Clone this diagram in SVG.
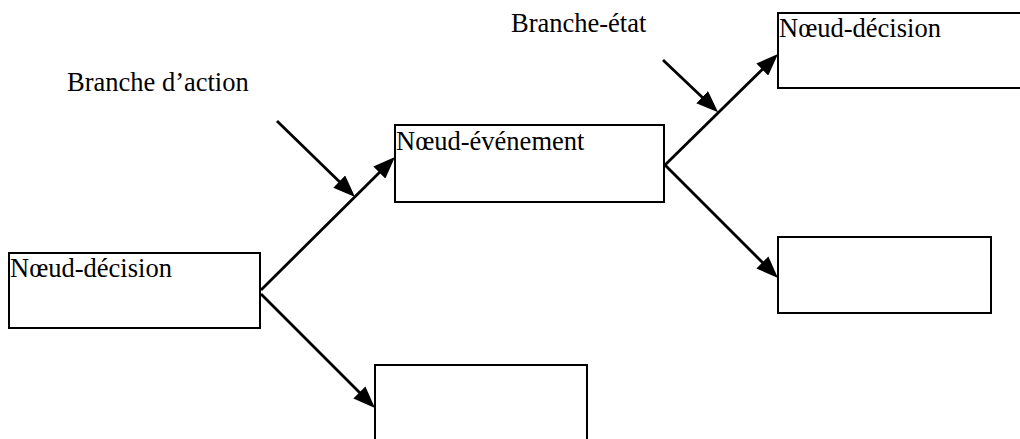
<svg xmlns="http://www.w3.org/2000/svg" width="1020" height="439" viewBox="0 0 1020 439">
  <style>
    .box { fill: #ffffff; stroke: #000000; stroke-width: 2; }
    .lbl { font-family: "Liberation Serif", "Times New Roman", serif; font-size: 26.5px; fill: #000000; }
    .conn { stroke: #000000; stroke-width: 2.8; fill: none; marker-end: url(#arrow); }
  </style>
  <defs>
    <marker id="arrow" viewBox="0 0 22 17" refX="15" refY="8.5" markerWidth="22" markerHeight="17" markerUnits="userSpaceOnUse" orient="auto">
      <path d="M0,0 L22,8.5 L0,17 Z" fill="#000000"/>
    </marker>
  </defs>
  <rect width="1020" height="439" fill="#ffffff"/>

  <g id="connectors">
    <line class="conn" x1="261" y1="290" x2="390" y2="162"/>
    <line class="conn" x1="261" y1="294" x2="370" y2="403"/>
    <line class="conn" x1="665" y1="165" x2="773" y2="59"/>
    <line class="conn" x1="665" y1="165" x2="773" y2="273"/>
    <line class="conn" x1="277" y1="121" x2="350" y2="192"/>
    <line class="conn" x1="663" y1="60" x2="713" y2="107.5"/>
  </g>

  <g id="node-decision-1">
    <rect class="box" x="9" y="253" width="251" height="75"/>
    <text class="lbl" x="10" y="277">Nœud-décision</text>
  </g>
  <g id="node-evenement">
    <rect class="box" x="395" y="125" width="269" height="77"/>
    <text class="lbl" x="396" y="150">Nœud-événement</text>
  </g>
  <g id="node-decision-2">
    <rect class="box" x="778" y="13" width="250" height="75"/>
    <text class="lbl" x="779" y="37">Nœud-décision</text>
  </g>
  <g id="node-empty-right">
    <rect class="box" x="778" y="237" width="213" height="76"/>
  </g>
  <g id="node-empty-bottom">
    <rect class="box" x="375" y="365" width="212" height="90"/>
  </g>

  <g id="label-branche-action">
    <text class="lbl" x="67" y="91">Branche d’action</text>
  </g>
  <g id="label-branche-etat">
    <text class="lbl" x="511" y="32">Branche-état</text>
  </g>
</svg>
